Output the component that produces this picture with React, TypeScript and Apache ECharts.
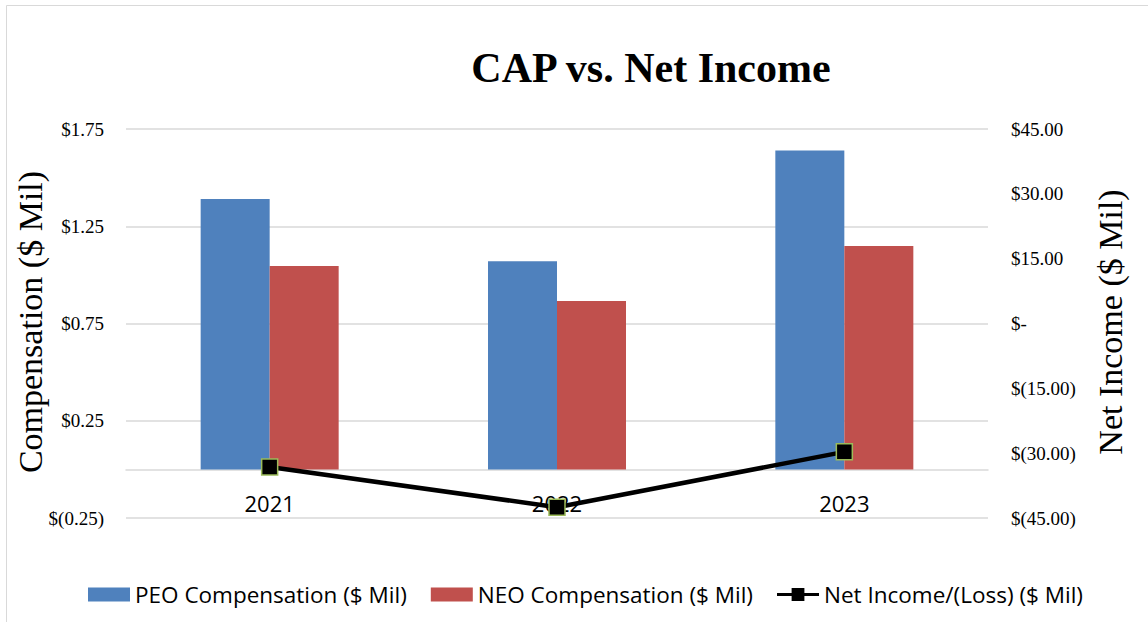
import React, { useEffect, useRef } from "react";
import * as echarts from "echarts";

const categories = ["2021", "2022", "2023"];
const peoComp = [1.39, 1.07, 1.64];
const neoComp = [1.046, 0.866, 1.149];
const netIncome = [-33.2, -42.5, -29.7];
const seriesNames = ["PEO Compensation ($ Mil)", "NEO Compensation ($ Mil)", "Net Income/(Loss) ($ Mil)"];

const fmtMoney = (v: number, dec: number) => {
  if (Math.abs(v) < 1e-9) return "$-";
  const s = Math.abs(v).toFixed(dec);
  return v < 0 ? `$(${s})` : `$${s}`;
};

export default function App() {
  const ref = useRef<HTMLDivElement>(null);
  useEffect(() => {
    if (!ref.current) return;
    const chart = echarts.init(ref.current, null, { renderer: "svg" });
    const serif = "'Liberation Serif', 'Times New Roman', serif";
    const sans = "'Open Sans', sans-serif";
    chart.setOption({
      animation: false,
      backgroundColor: "#ffffff",
      grid: { left: 126, right: 160, top: 129, bottom: 104, containLabel: false },
      graphic: [
        {
          type: "rect",
          shape: { x: 6.5, y: 5.5, width: 1150, height: 640 },
          style: { fill: "none", stroke: "#d9d9d9", lineWidth: 1 },
          silent: true,
        },
        {
          type: "text",
          x: 651,
          y: 68,
          style: {
            text: "CAP vs. Net Income",
            font: `bold 42px ${serif}`,
            fill: "#000",
            textAlign: "center",
            textVerticalAlign: "middle",
          },
        },
        {
          type: "text",
          x: 30,
          y: 322,
          rotation: Math.PI / 2,
          style: {
            text: "Compensation ($ Mil)",
            font: `34px ${serif}`,
            fill: "#000",
            textAlign: "center",
            textVerticalAlign: "middle",
          },
        },
        {
          type: "text",
          x: 1110,
          y: 322,
          rotation: Math.PI / 2,
          style: {
            text: "Net Income ($ Mil)",
            font: `34px ${serif}`,
            fill: "#000",
            textAlign: "center",
            textVerticalAlign: "middle",
          },
        },
      ],
      legend: {
        data: [
          { name: seriesNames[0], icon: "rect" },
          { name: seriesNames[1], icon: "rect" },
          {
            name: seriesNames[2],
            icon: "path://M0,5.3H46V8.7H0Z M16,0H30V14H16Z",
            itemStyle: { color: "#000", borderColor: "#000", borderWidth: 0 },
          },
        ],
        left: 83,
        top: 578,
        itemWidth: 42,
        itemHeight: 14,
        itemGap: 24,
        textStyle: { fontFamily: sans, fontSize: 22.5, color: "#000" },
      },
      xAxis: {
        type: "category",
        data: categories,
        axisLine: { onZero: true, onZeroAxisIndex: 0, lineStyle: { color: "#d9d9d9", width: 1.5 } },
        axisTick: { show: false },
        axisLabel: { fontFamily: sans, fontSize: 22, color: "#000", margin: -26 },
      },
      yAxis: [
        {
          type: "value",
          min: -0.25,
          max: 1.75,
          interval: 0.5,
          axisLine: { show: false },
          axisTick: { show: false },
          splitLine: { lineStyle: { color: "#d9d9d9", width: 1.5 } },
          axisLabel: {
            fontFamily: serif,
            fontSize: 19,
            color: "#000",
            margin: 22,
            formatter: (v: number) => fmtMoney(v, 2),
          },
        },
        {
          type: "value",
          min: -45,
          max: 45,
          interval: 15,
          position: "right",
          axisLine: { show: false },
          axisTick: { show: false },
          splitLine: { show: false },
          axisLabel: {
            fontFamily: serif,
            fontSize: 19,
            color: "#000",
            margin: 23,
            formatter: (v: number) => fmtMoney(v, 2),
          },
        },
      ],
      series: [
        {
          name: seriesNames[0],
          type: "bar",
          data: peoComp,
          barWidth: 69,
          barGap: "0%",
          itemStyle: { color: "#4f81bd" },
        },
        {
          name: seriesNames[1],
          type: "bar",
          data: neoComp,
          barWidth: 69,
          barGap: "0%",
          itemStyle: { color: "#c0504d" },
        },
        {
          name: seriesNames[2],
          type: "line",
          yAxisIndex: 1,
          data: netIncome,
          symbol: "rect",
          symbolSize: 16,
          lineStyle: { color: "#000", width: 4.5 },
          itemStyle: { color: "#000", borderColor: "#9bbb59", borderWidth: 1.5 },
          z: 5,
        },
      ],
    });
    return () => chart.dispose();
  }, []);
  return (
    <div
      ref={ref}
      style={{ position: "fixed", left: 0, top: 0, width: 1148, height: 622 }}
    />
  );
}
